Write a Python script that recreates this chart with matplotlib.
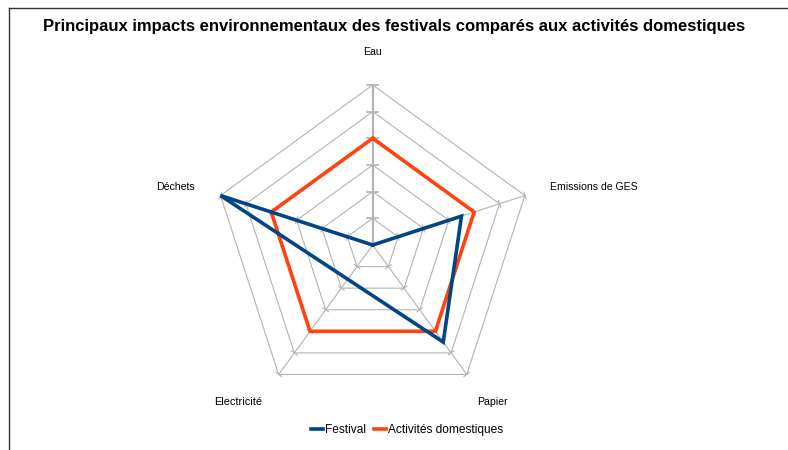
import numpy as np
import matplotlib
matplotlib.use("Agg")
from matplotlib import pyplot as plt
from matplotlib.lines import Line2D

plt.rcParams['font.family'] = ['Liberation Sans', 'DejaVu Sans']

# data
categories = ["Eau", "Emissions de GES", "Papier", "Electricité", "Déchets"]
festival = [0, 3.5, 4.5, np.nan, 6]
domestique = [4, 4, 4, 4, 4]
series_names = ["Festival", "Activités domestiques"]
levels = [1, 2, 3, 4, 5, 6]

BLUE = "#004586"
ORANGE = "#ff420e"
GRID = "#b3b3b3"

W, H = 788, 450
cx, cy = 372.7, 245.0     # centre in pixels
unit = 26.67              # pixels per value unit

fig = plt.figure(figsize=(W / 100, H / 100), dpi=100)
ax = fig.add_axes([0, 0, 1, 1])
ax.set_xlim(-cx / unit, (W - cx) / unit)
ax.set_ylim(-(H - cy) / unit, cy / unit)
ax.set_aspect('equal')
ax.axis('off')

n = len(categories)
angles = np.deg2rad(90 - 72 * np.arange(n))

def xy(r, a):
    return r * np.cos(a), r * np.sin(a)

# grid pentagons
for lv in levels:
    a = np.append(angles, angles[0])
    x, y = xy(lv, a)
    ax.plot(x, y, color=GRID, lw=0.8, zorder=1)

# spokes and ticks
for i, a in enumerate(angles):
    x, y = xy(np.array([0, levels[-1]]), a)
    ax.plot(x, y, color=GRID, lw=1.6 if i == 0 else 0.8, zorder=1)
    half = 0.2 if i == 0 else 0.13
    px, py = -np.sin(a), np.cos(a)
    for lv in levels:
        tx, ty = xy(lv, a)
        ax.plot([tx - half * px, tx + half * px], [ty - half * py, ty + half * py],
                color=GRID, lw=1.2 if i == 0 else 0.8, zorder=1)

# series
def closed(vals):
    vals = np.asarray(vals, dtype=float)
    keep = ~np.isnan(vals)
    r = vals[keep]
    a = angles[keep]
    r = np.append(r, r[0])
    a = np.append(a, a[0])
    return xy(r, a)

x, y = closed(domestique)
ax.plot(x, y, color=ORANGE, lw=2.6, zorder=3, solid_joinstyle='miter')
x, y = closed(festival)
ax.plot(x, y, color=BLUE, lw=2.6, zorder=4, solid_joinstyle='miter')

# category labels
fs = 7.6
lx, ly = xy(7.0, angles)
ax.text(lx[0], 7.05, categories[0], ha='center', va='bottom', fontsize=fs)
ax.text(lx[1], ly[1], categories[1], ha='left', va='center', fontsize=fs)
ax.text(lx[2] - 0.2, ly[2] - 0.05, categories[2], ha='left', va='top', fontsize=fs)
ax.text(lx[3] - 0.05, ly[3] - 0.05, categories[3], ha='right', va='top', fontsize=fs + 0.3)
ax.text(lx[4], ly[4], categories[4], ha='right', va='center', fontsize=fs)

# title
fig.text(0.5, 1 - 27 / H, "Principaux impacts environnementaux des festivals comparés aux activités domestiques",
         ha='center', va='center', fontsize=12, fontweight='bold')

# legend
handles = [Line2D([], [], color=BLUE, lw=2.6), Line2D([], [], color=ORANGE, lw=2.6)]
fig.legend(handles, series_names, loc='center', bbox_to_anchor=(407 / W, 1 - 430 / H),
           ncol=2, frameon=False, fontsize=8.6, handlelength=1.0, handletextpad=0.15,
           columnspacing=0.7)

# frame
fig.add_artist(Line2D([9 / W, 1], [1 - 8 / H, 1 - 8 / H], color="#333333", lw=1.0))
fig.add_artist(Line2D([9 / W, 9 / W], [0, 1 - 8 / H], color="#333333", lw=1.0))

fig.savefig("out.png", dpi=100)
plt.close()
